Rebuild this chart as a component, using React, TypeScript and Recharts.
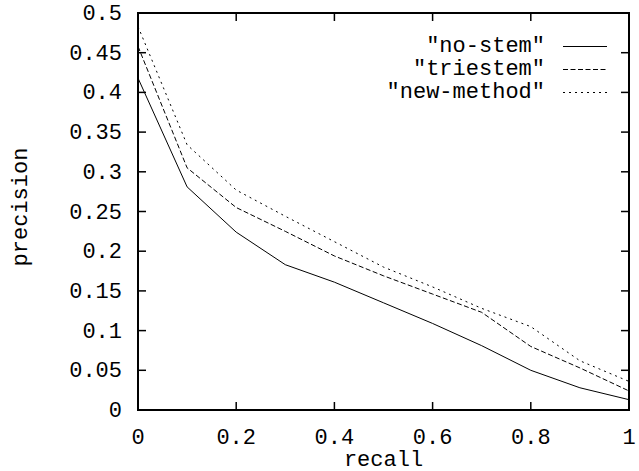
import React from 'react';
import { LineChart, Line, XAxis, YAxis, Legend, ReferenceArea } from 'recharts';

const recall = [0, 0.1, 0.2, 0.3, 0.4, 0.5, 0.6, 0.7, 0.8, 0.9, 1];
const noStem = [0.418, 0.281, 0.224, 0.183, 0.161, 0.135, 0.109, 0.081, 0.05, 0.028, 0.013];
const triestem = [0.458, 0.305, 0.255, 0.225, 0.194, 0.169, 0.146, 0.123, 0.08, 0.053, 0.024];
const newMethod = [0.483, 0.334, 0.277, 0.244, 0.212, 0.18, 0.155, 0.128, 0.105, 0.062, 0.036];

const xTicks = [0, 0.2, 0.4, 0.6, 0.8, 1];
const yTicks = [0, 0.05, 0.1, 0.15, 0.2, 0.25, 0.3, 0.35, 0.4, 0.45, 0.5];

const series = [
  { key: 'noStem', label: '"no-stem"', dash: undefined as string | undefined },
  { key: 'triestem', label: '"triestem"', dash: '5 2.5' },
  { key: 'newMethod', label: '"new-method"', dash: '2 4' },
];

const data = recall.map((r, i) => ({
  recall: r,
  noStem: noStem[i],
  triestem: triestem[i],
  newMethod: newMethod[i],
}));

const W = 639;
const H = 471;
const M = { top: 13, right: 10, bottom: 0, left: 0 };
const Y_W = 138;
const X_H = 61;
// plot box edges, used for the gnuplot-style mirrored tick marks
const TOP = M.top;
const BOTTOM = H - M.bottom - X_H;
const LEFT = M.left + Y_W;
const RIGHT = W - M.right;
const TICK = 8;

const FONT = '"Liberation Mono", "Courier New", monospace';

const XTick = (props: any) => {
  const x = props.x;
  return (
    <g>
      <line x1={x} x2={x} y1={BOTTOM} y2={BOTTOM - TICK} stroke="#000" strokeWidth={1.5} />
      <line x1={x} x2={x} y1={TOP} y2={TOP + TICK} stroke="#000" strokeWidth={1.5} />
      <text x={x} y={BOTTOM + 34} textAnchor="middle" fill="#000" fontSize={22} fontFamily={FONT}>
        {props.payload.value}
      </text>
    </g>
  );
};

const YTick = (props: any) => {
  const y = props.y;
  return (
    <g>
      <line x1={LEFT} x2={LEFT + TICK} y1={y} y2={y} stroke="#000" strokeWidth={1.5} />
      <line x1={RIGHT} x2={RIGHT - TICK} y1={y} y2={y} stroke="#000" strokeWidth={1.5} />
      <text x={LEFT - 16} y={y} dy={7} textAnchor="end" fill="#000" fontSize={22} fontFamily={FONT}>
        {props.payload.value}
      </text>
    </g>
  );
};

const YLabel = (props: any) => {
  const vb = props.viewBox || { x: 0, y: 0, height: 0 };
  const x = vb.x + 27;
  const cy = vb.y + vb.height / 2 - 4.5;
  return (
    <text
      x={x}
      y={cy}
      transform={`rotate(-90, ${x}, ${cy})`}
      textAnchor="middle"
      fill="#000"
      fontSize={22}
      fontFamily={FONT}
    >
      precision
    </text>
  );
};

const renderLegend = () => (
  <div style={{ fontFamily: FONT, fontSize: 22, color: '#000' }}>
    {series.map((s) => (
      <div
        key={s.key}
        style={{ display: 'flex', alignItems: 'center', justifyContent: 'flex-end', height: 23, lineHeight: '23px' }}
      >
        <span style={{ whiteSpace: 'pre' }}>{s.label}</span>
        <svg width={44} height={23} style={{ marginLeft: 18, display: 'block' }}>
          <line x1={0} x2={44} y1={11.5} y2={11.5} stroke="#000" strokeWidth={1} strokeDasharray={s.dash} />
        </svg>
      </div>
    ))}
  </div>
);

export default function App() {
  return (
    <div style={{ position: 'absolute', left: 0, top: 0, width: W, height: H, background: '#fff' }}>
      <LineChart width={W} height={H} data={data} margin={M}>
        <XAxis
          dataKey="recall"
          type="number"
          domain={[0, 1]}
          ticks={xTicks}
          height={X_H}
          tick={<XTick />}
          tickLine={false}
          axisLine={false}
          label={{ value: 'recall', position: 'insideBottom', offset: 5, fill: '#000', fontSize: 22, fontFamily: FONT }}
        />
        <YAxis
          type="number"
          domain={[0, 0.5]}
          ticks={yTicks}
          width={Y_W}
          tick={<YTick />}
          tickLine={false}
          axisLine={false}
          label={<YLabel />}
        />
        <ReferenceArea
          x1={0}
          x2={1}
          y1={0}
          y2={0.5}
          fill="none"
          fillOpacity={0}
          stroke="#000"
          strokeWidth={2}
          strokeOpacity={1}
          ifOverflow="visible"
        />
        <Legend
          layout="horizontal"
          verticalAlign="middle"
          align="center"
          content={renderLegend}
          wrapperStyle={{ top: 34.5, right: 32, left: 'auto', width: 'auto' }}
        />
        {series.map((s) => (
          <Line
            key={s.key}
            dataKey={s.key}
            name={s.label}
            type="linear"
            stroke="#000"
            strokeWidth={1}
            strokeDasharray={s.dash}
            dot={false}
            activeDot={false}
            isAnimationActive={false}
          />
        ))}
      </LineChart>
    </div>
  );
}
